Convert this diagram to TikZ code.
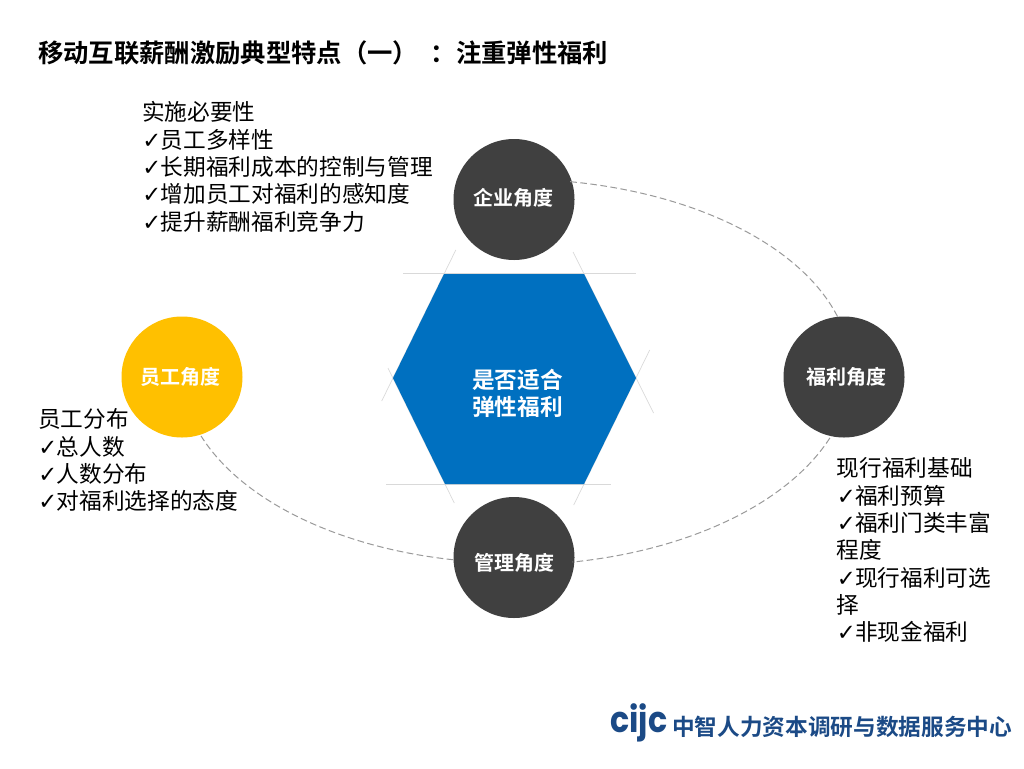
\documentclass[tikz,border=0pt]{standalone}
\usepackage{fontspec}
\setmainfont{Noto Sans CJK SC}[BoldFont={Noto Sans CJK SC Bold}]
\newfontfamily\chk{DejaVu Sans Bold}
\newfontfamily\logofont{Poppins Bold}
\newcommand{\ck}{{\chk\char"2713}\hspace{-0.4pt}}
\newcommand{\tg}[1]{\mbox{#1}}
\definecolor{hexblue}{HTML}{0070C0}
\definecolor{discgrey}{HTML}{404040}
\definecolor{discgold}{HTML}{FFC000}
\definecolor{logoblue}{HTML}{1B4A86}
\definecolor{orbitgrey}{HTML}{9A9A9A}
\definecolor{guidegrey}{HTML}{D9D9D9}
\tikzset{
 x=0.75pt,y=-0.75pt,
 disc/.style={circle,minimum size=90.75pt,inner sep=0pt},
 disctext/.style={inner sep=0pt,text=white,font=\fontsize{15}{18}\selectfont\bfseries},
 note/.style={anchor=north west,align=left,inner sep=0pt,font=\fontsize{17}{20.5}\selectfont},
 orbit/.style={draw=orbitgrey,line width=0.75pt,dash pattern=on 5pt off 2.6pt},
 guide/.style={draw=guidegrey,line width=0.5pt},
}
\begin{document}
\begin{tikzpicture}
\useasboundingbox (0,0) rectangle (1024,768);
\fill[white] (0,0) rectangle (1024,768);
\node[anchor=west,inner sep=0pt,font=\fontsize{19}{22}\selectfont\bfseries] (title) at (38,53) {移动互联薪酬激励典型特点\tg{（}\tg{一}\tg{）}\hspace{9.5pt}\tg{：}注重弹性福利};
\draw[guide] (403,273) -- (636,273);
\draw[guide] (386,484) -- (611,484);
\draw[guide] (455.8,250) -- (381.7,401);
\draw[guide] (573,252) -- (653.5,413);
\draw[guide] (649.7,350) -- (573.7,505);
\draw[guide] (388,368) -- (454.3,503);
\fill[hexblue] (444,274) -- (584,274) -- (636,378) -- (584,484) -- (445,484) -- (393,378) -- cycle;
\node[inner sep=0pt,align=center,text=white,font=\fontsize{17}{20.3}\selectfont\bfseries] (hex) at (517.5,393.5) {是否适合\\弹性福利};
\node[disc,fill=discgrey] (qy) at (514,199.5) {};
\node[disc,fill=discgrey] (fl) at (844,377) {};
\node[disc,fill=discgrey] (gl) at (514,557.5) {};
\node[disc,fill=discgold] (yg) at (182,377) {};
\node[disctext] (qyt) at (513.5,198) {企业角度};
\node[disctext] (flt) at (846,377) {福利角度};
\node[disctext] (glt) at (514,563) {管理角度};
\node[disctext] (ygt) at (180.5,377) {员工角度};
\coordinate (a1) at ({514+337*cos(-80.4)},{370+191*sin(-80.4)});
\coordinate (b1) at ({514+337*cos(20.4)},{370+195*sin(20.4)});
\coordinate (c1) at ({514+333*cos(100.5)},{370+193*sin(100.5)});
\draw[orbit] (a1) arc[start angle=-80.4,end angle=-15.8,x radius=337,y radius=191];
\draw[orbit] (b1) arc[start angle=20.4,end angle=80,x radius=337,y radius=195];
\draw[orbit] (c1) arc[start angle=100.5,end angle=160,x radius=333,y radius=193];
\node[note] (n1) at (142,101.5) {实施必要性\\\ck 员工多样性\\\ck 长期福利成本的控制与管理\\\ck 增加员工对福利的感知度\\\ck 提升薪酬福利竞争力};
\node[note] (n2) at (38,408.5) {员工分布\\\ck 总人数\\\ck 人数分布\\\ck 对福利选择的态度};
\node[note] (n3) at (836.5,457.5) {现行福利基础\\\ck 福利预算\\\ck 福利门类丰富\\程度\\\ck 现行福利可选\\择\\\ck 非现金福利};
\node[anchor=west,inner sep=0pt,text=logoblue,font=\logofont\fontsize{27}{27}\selectfont,xscale=0.88] (logo) at (610,723) {cijc};
\node[anchor=west,inner sep=0pt,text=logoblue,font=\fontsize{17}{20}\selectfont\bfseries] (org) at (672,727) {中智人力资本调研与数据服务中心};
\end{tikzpicture}
\end{document}
